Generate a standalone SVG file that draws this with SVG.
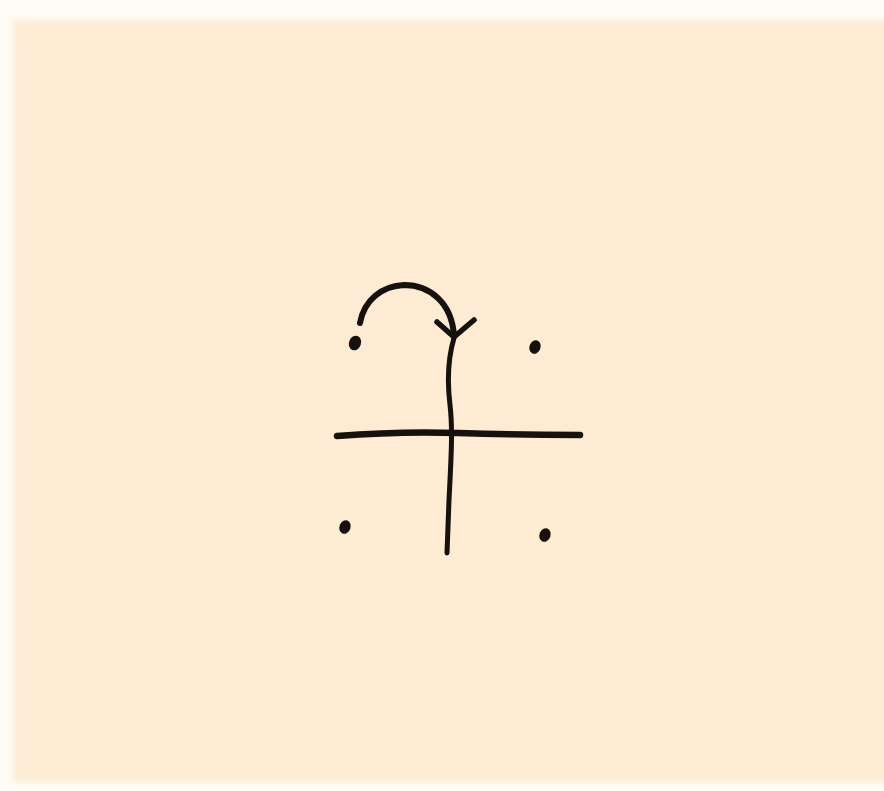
<svg xmlns="http://www.w3.org/2000/svg" width="884" height="791" viewBox="0 0 884 791">
<defs>
<filter id="soft" x="-5%" y="-5%" width="110%" height="110%"><feGaussianBlur stdDeviation="3"/></filter>
<style>
.ink{fill:none;stroke:#16110d;stroke-linecap:round;stroke-linejoin:round}
.dot{fill:#16110d}
</style>
</defs>
<rect width="884" height="791" fill="#FEFCF5"/>
<rect x="13" y="20" width="880" height="762" fill="#FDEBD4" filter="url(#soft)"/>
<g id="axes">
<path class="ink" stroke-width="6.5" d="M337,436 Q400,431 458,433 T580,435"/>
<path class="ink" stroke-width="5" d="M454,338 C448,358 447,380 450,405 C453,430 451,460 449,500 L447,553"/>
</g>
<g id="arc">
<path class="ink" stroke-width="6" d="M360,323 C364,300 382,286 404,285 C430,285 452,303 454,336"/>
<path class="ink" stroke-width="5.5" d="M437,322 L454,337 L474,320"/>
</g>
<g id="dots">
<ellipse class="dot" cx="355" cy="343" rx="6" ry="7.5" transform="rotate(20 355 343)"/>
<ellipse class="dot" cx="535" cy="347" rx="5.5" ry="7" transform="rotate(20 535 347)"/>
<ellipse class="dot" cx="345" cy="527" rx="5.5" ry="7" transform="rotate(20 345 527)"/>
<ellipse class="dot" cx="545" cy="535" rx="5.5" ry="7" transform="rotate(20 545 535)"/>
</g>
</svg>
